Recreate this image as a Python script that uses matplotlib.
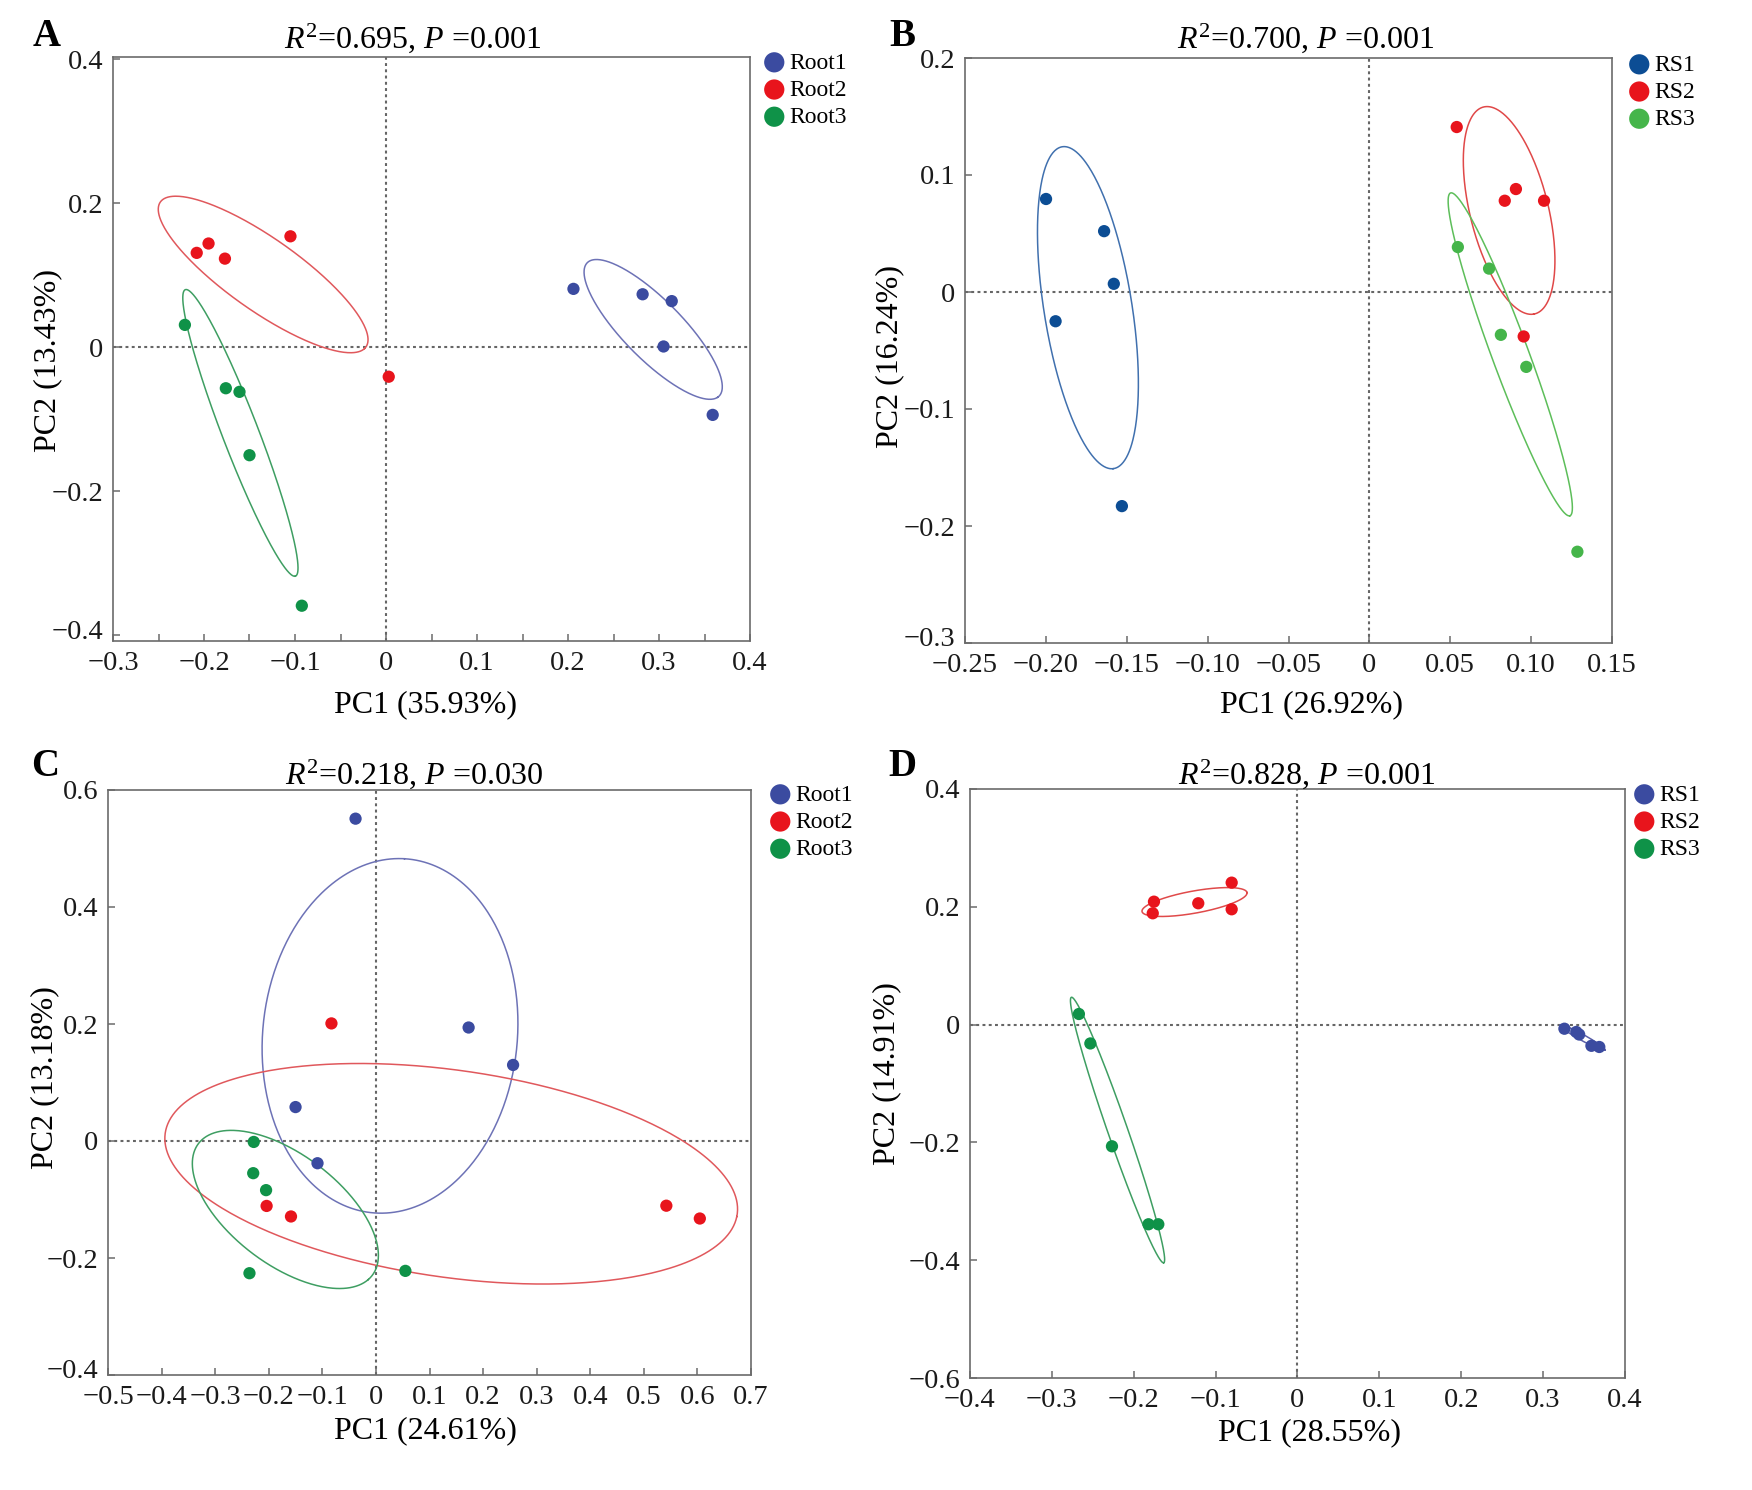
import numpy as np
import matplotlib
matplotlib.use("Agg")
import matplotlib.pyplot as plt
from matplotlib.ticker import MultipleLocator, FuncFormatter
from matplotlib.transforms import ScaledTranslation

plt.rcParams["font.family"] = ["Liberation Serif", "DejaVu Serif"]
plt.rcParams["mathtext.fontset"] = "custom"
plt.rcParams["mathtext.rm"] = "Liberation Serif"
plt.rcParams["mathtext.it"] = "Liberation Serif:italic"

W, H = 1752, 1490

# ---- data ----
root_groups = ["Root1", "Root2", "Root3"]
rs_groups = ["RS1", "RS2", "RS3"]

# panel A
a_x = {
    "Root1": [0.206, 0.282, 0.314, 0.305, 0.359],
    "Root2": [-0.208, -0.195, -0.177, -0.105, 0.003],
    "Root3": [-0.221, -0.176, -0.161, -0.150, -0.0925],
}
a_y = {
    "Root1": [0.081, 0.0735, 0.064, 0.001, -0.094],
    "Root2": [0.131, 0.144, 0.123, 0.154, -0.041],
    "Root3": [0.031, -0.057, -0.062, -0.150, -0.359],
}
# ellipse: centre x, centre y, semi-axis 1 (dx, dy), semi-axis 2 (dx, dy)
a_ell = {
    "Root1": (0.2936, 0.0247, 0.0708, -0.0943, 0.0275, 0.0230),
    "Root2": (-0.135, 0.101, 0.1115, -0.1028, 0.0292, 0.0353),
    "Root3": (-0.160, -0.119, 0.0603, -0.199, 0.0193, 0.0066),
}

# panel B
b_x = {
    "RS1": [-0.1999, -0.164, -0.158, -0.194, -0.153],
    "RS2": [0.054, 0.0837, 0.0906, 0.108, 0.0954],
    "RS3": [0.0547, 0.074, 0.0813, 0.097, 0.1286],
}
b_y = {
    "RS1": [0.0795, 0.052, 0.007, -0.025, -0.183],
    "RS2": [0.141, 0.078, 0.088, 0.078, -0.038],
    "RS3": [0.0384, 0.020, -0.0366, -0.064, -0.222],
}
b_ell = {
    "RS1": (-0.174, -0.0134, 0.01554, -0.1376, 0.02705, 0.00423),
    "RS2": (0.0864, 0.0697, 0.0152, -0.0886, 0.0239, 0.0057),
    "RS3": (0.0871, -0.0533, 0.0368, -0.138, 0.0110, 0.0041),
}

# panel C
c_x = {
    "Root1": [-0.038, 0.173, 0.256, -0.150, -0.109],
    "Root2": [-0.083, -0.204, -0.1585, 0.542, 0.6045],
    "Root3": [-0.228, -0.229, -0.205, -0.236, 0.055],
}
c_y = {
    "Root1": [0.551, 0.194, 0.130, 0.058, -0.038],
    "Root2": [0.201, -0.111, -0.129, -0.1106, -0.1325],
    "Root3": [-0.0016, -0.055, -0.084, -0.226, -0.222],
}
c_ell = {
    "Root1": (0.0263, 0.1797, 0.027, 0.3028, 0.2372, -0.0129),
    "Root2": (0.1405, -0.056, 0.533, -0.0732, 0.0389, 0.1737),
    "Root3": (-0.169, -0.117, 0.1547, -0.1199, 0.0788, 0.0624),
}

# panel D
d_x = {
    "RS1": [0.326, 0.3405, 0.344, 0.359, 0.3686],
    "RS2": [-0.1753, -0.1768, -0.1212, -0.0804, -0.0804],
    "RS3": [-0.267, -0.253, -0.2266, -0.182, -0.170],
}
d_y = {
    "RS1": [-0.007, -0.0125, -0.0168, -0.036, -0.038],
    "RS2": [0.2087, 0.189, 0.206, 0.241, 0.1958],
    "RS3": [0.018, -0.032, -0.2066, -0.339, -0.339],
}
d_ell = {
    "RS1": (0.348, -0.0219, 0.0275, -0.0212, -0.0018, -0.0044),
    "RS2": (-0.1258, 0.2081, 0.0641, 0.0161, 0.0024, -0.0185),
    "RS3": (-0.2198, -0.179, 0.0563, -0.2254, 0.0118, 0.0041),
}

titles = [r"$R^2$=0.695, $P$ =0.001", r"$R^2$=0.700, $P$ =0.001",
          r"$R^2$=0.218, $P$ =0.030", r"$R^2$=0.828, $P$ =0.001"]
xlabels = ["PC1 (35.93%)", "PC1 (26.92%)", "PC1 (24.61%)", "PC1 (28.55%)"]
ylabels = ["PC2 (13.43%)", "PC2 (16.24%)", "PC2 (13.18%)", "PC2 (14.91%)"]
letters = ["A", "B", "C", "D"]

# ---- styling ----
pt_root = {"Root1": "#3B4BA0", "Root2": "#E8141C", "Root3": "#0F9248"}
el_root = {"Root1": "#6D72B6", "Root2": "#E0585C", "Root3": "#3E9E62"}
pt_rs_b = {"RS1": "#0C4D94", "RS2": "#E8141C", "RS3": "#45B54A"}
el_rs_b = {"RS1": "#4070AE", "RS2": "#E04848", "RS3": "#5DBE5A"}
pt_rs_d = {"RS1": "#3B4BA0", "RS2": "#E8141C", "RS3": "#0F9248"}
el_rs_d = {"RS1": "#5B60A8", "RS2": "#E04A4A", "RS3": "#3E9E62"}

SPINE = "#6b6b6b"


def px_rect(left, right, top, bottom):
    return [left / W, 1 - bottom / H, (right - left) / W, (bottom - top) / H]


def fx(x):
    return x / W


def fy(y):
    return 1 - y / H


def fmt_1(v, pos):
    if abs(v) < 1e-9:
        return "0"
    return f"{v:.1f}".replace("-", "\u2212")


def fmt_2(v, pos):
    if abs(v) < 1e-9:
        return "0"
    return f"{v:.2f}".replace("-", "\u2212")


def draw_panel(ax, groups, xs, ys, ells, pcol, ecol, xlim, ylim,
               xmajor, xminor, ymajor, xfmt):
    t = np.linspace(0, 2 * np.pi, 400)
    ax.axhline(0, color="#666666", lw=1.5, ls=(0, (1.4, 1.6)), zorder=1)
    ax.axvline(0, color="#666666", lw=1.5, ls=(0, (1.4, 1.6)), zorder=1)
    for g in groups:
        cx, cy, ax1, ay1, bx1, by1 = ells[g]
        ex = cx + ax1 * np.cos(t) + bx1 * np.sin(t)
        ey = cy + ay1 * np.cos(t) + by1 * np.sin(t)
        ax.plot(ex, ey, color=ecol[g], lw=1.1, zorder=2)
    for g in groups:
        ax.scatter(xs[g], ys[g], s=78, color=pcol[g], edgecolors="none",
                   zorder=3, label=g)
    ax.set_xlim(*xlim)
    ax.set_ylim(*ylim)
    ax.xaxis.set_major_locator(MultipleLocator(xmajor))
    if xminor:
        ax.xaxis.set_minor_locator(MultipleLocator(xminor))
    ax.yaxis.set_major_locator(MultipleLocator(ymajor))
    ax.xaxis.set_major_formatter(FuncFormatter(xfmt))
    ax.yaxis.set_major_formatter(FuncFormatter(fmt_1))
    ax.tick_params(axis="both", which="both", direction="in", length=5,
                   width=1.1, color=SPINE, top=False, right=False,
                   labelsize=20.5, labelcolor="#1a1a1a")
    ax.tick_params(axis="x", which="minor", length=5)
    ax.tick_params(axis="x", pad=7)
    ax.tick_params(axis="y", pad=7)
    for s in ax.spines.values():
        s.set_color(SPINE)
        s.set_linewidth(1.2)


fig = plt.figure(figsize=(W / 100, H / 100), dpi=100)

axA = fig.add_axes(px_rect(113, 750, 57, 641))
draw_panel(axA, root_groups, a_x, a_y, a_ell, pt_root, el_root,
           (-0.3, 0.4), (-0.408, 0.403), 0.1, 0.05, 0.2, fmt_1)

axB = fig.add_axes(px_rect(965, 1612, 58, 643))
draw_panel(axB, rs_groups, b_x, b_y, b_ell, pt_rs_b, el_rs_b,
           (-0.25, 0.15), (-0.3, 0.2), 0.05, None, 0.1, fmt_2)

axC = fig.add_axes(px_rect(108, 751, 790, 1375))
draw_panel(axC, root_groups, c_x, c_y, c_ell, pt_root, el_root,
           (-0.5, 0.7), (-0.4, 0.6), 0.1, None, 0.2, fmt_1)

axD = fig.add_axes(px_rect(970, 1625, 789, 1378))
draw_panel(axD, rs_groups, d_x, d_y, d_ell, pt_rs_d, el_rs_d,
           (-0.4, 0.4), (-0.6, 0.4), 0.1, None, 0.2, fmt_1)

axes = [axA, axB, axC, axD]

# legends, titles, labels, letters (pixel positions in the figure)
legend_pos = [(766, 52), (1631, 54), (772, 784), (1636, 784)]
title_pos = [(413, 38), (1306, 38), (414, 774), (1307, 774)]
xlabel_pos = [(425, 705), (1312, 705), (425, 1431), (1309, 1433)]
ylabel_pos = [(48, 360), (890, 357), (45, 1078), (887, 1074)]
letter_pos = [(47, 36), (902, 36), (45, 767), (902, 767)]

for i, ax in enumerate(axes):
    ax.legend(loc="upper left", bbox_to_anchor=(fx(legend_pos[i][0]), fy(legend_pos[i][1])),
              bbox_transform=fig.transFigure, frameon=False, fontsize=17,
              markerscale=1.65, handlelength=0.7, handletextpad=0.3,
              labelspacing=0.24, borderpad=0, borderaxespad=0)
    fig.text(fx(title_pos[i][0]), fy(title_pos[i][1]), titles[i], fontsize=23,
             ha="center", va="center")
    fig.text(fx(xlabel_pos[i][0]), fy(xlabel_pos[i][1]), xlabels[i], fontsize=23,
             ha="center", va="center")
    fig.text(fx(ylabel_pos[i][0]), fy(ylabel_pos[i][1]), ylabels[i], fontsize=23,
             ha="center", va="center", rotation=90)
    fig.text(fx(letter_pos[i][0]), fy(letter_pos[i][1]), letters[i], fontsize=28,
             fontweight="bold", ha="center", va="center")

# the lowest y tick label sits a little above the corner in the reference
fig.canvas.draw()
for ax in [axA, axB, axC]:
    y0 = ax.get_ylim()[0]
    for lab in ax.yaxis.get_majorticklabels():
        if abs(lab.get_position()[1] - round(y0, 1)) < 1e-6:
            lab.set_transform(lab.get_transform() +
                              ScaledTranslation(0, 6 / 100, fig.dpi_scale_trans))

fig.savefig("out.png", dpi=100)
